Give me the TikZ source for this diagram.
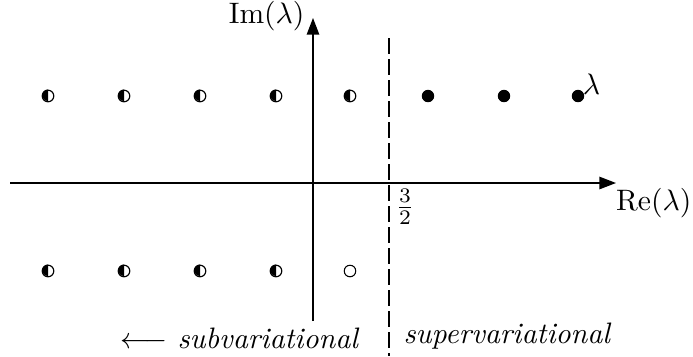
\documentclass[tikz,border=0pt]{standalone}
\usetikzlibrary{arrows.meta}
\begin{document}
\begin{tikzpicture}[x=0.338pt,y=-0.338pt,
  axis/.style={line width=0.45pt,-{Triangle[length=5.6pt,width=4.2pt]}},
  half/.style={circle,inner sep=0pt,minimum size=4pt},
  full/.style={circle,fill=black,inner sep=0pt,minimum size=4.2pt},
  open/.style={circle,draw,inner sep=0pt,minimum size=3.9pt,line width=0.35pt},
  lbl/.style={inner sep=1pt}]
\useasboundingbox (0,0) rectangle (693,356);
\coordinate (xs) at (10,183);
\coordinate (xe) at (616,183);
\coordinate (ys) at (313,321);
\coordinate (ye) at (313,18);
\draw[axis] (xs) -- (xe);
\draw[axis] (ys) -- (ye);
\coordinate (ds) at (389,38);
\coordinate (de) at (389,356);
\draw[dash pattern=on 5.4pt off 1.7pt,line width=0.35pt] (ds) -- (de);
\foreach \i/\x in {1/48,2/124,3/200,4/276,5/350}{
  \node[half] (t\i) at (\x,96) {};
  \fill (t\i.north) arc (90:270:1.95pt) -- cycle;
  \draw[line width=0.4pt] (t\i) circle (1.95pt);
}
\foreach \i/\x in {1/48,2/124,3/200,4/276}{
  \node[half] (b\i) at (\x,271) {};
  \fill (b\i.north) arc (90:270:1.95pt) -- cycle;
  \draw[line width=0.4pt] (b\i) circle (1.95pt);
}
\node[open] (b5) at (350,271) {};
\node[full] (f1) at (428,96) {};
\node[full] (f2) at (504,96) {};
\node[full] (f3) at (578,96) {};
\node[lbl,anchor=south west] (lam) at ([xshift=-1.2pt,yshift=-2.2pt]f3.north east) {$\lambda$};
\node[lbl,anchor=east] (im) at (308,16) {$\mathrm{Im}(\lambda)$};
\node[inner sep=0pt,anchor=east] (re) at (692,203) {$\mathrm{Re}(\lambda)$};
\node[lbl,anchor=north west] (tf) at (392,186) {$\frac{3}{2}$};
\node[lbl,anchor=east] (sub) at (363,338) {$\longleftarrow$ \textit{subvariational}};
\node[lbl,anchor=west] (sup) at (400,336) {\textit{supervariational}};
\end{tikzpicture}
\end{document}
